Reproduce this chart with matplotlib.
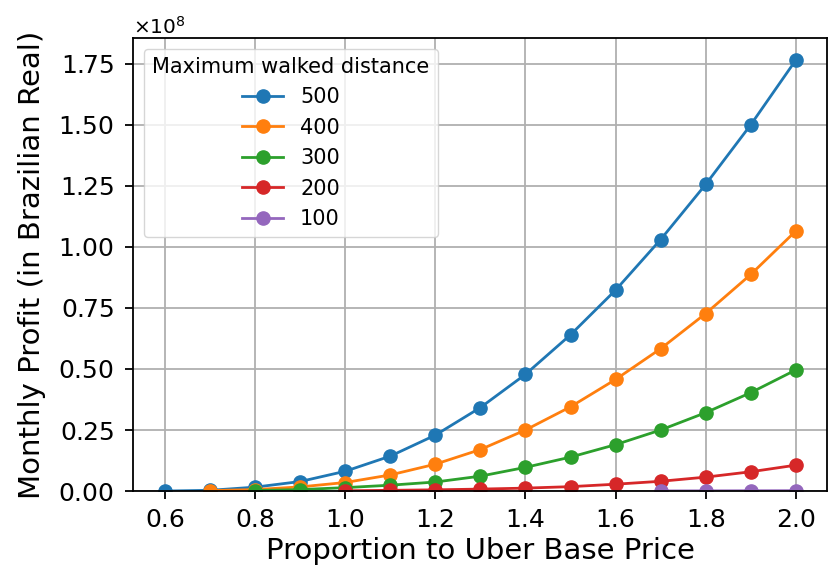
import numpy as np
import matplotlib.pyplot as plt
from matplotlib.ticker import ScalarFormatter

prices = [0.6, 0.7, 0.8, 0.9, 1.0, 1.1, 1.2, 1.3, 1.4, 1.5, 1.6, 1.7, 1.8, 1.9, 2.0]

# monthly profit, units of 1e8 BRL
profit_500 = [0.0, 0.003, 0.016, 0.039, 0.081, 0.143, 0.229, 0.342, 0.478, 0.640, 0.823, 1.030, 1.256, 1.500, 1.765]
profit_400 = [0.002, 0.006, 0.017, 0.035, 0.066, 0.110, 0.170, 0.250, 0.345, 0.457, 0.583, 0.727, 0.887, 1.065]
profit_300 = [0.002, 0.006, 0.014, 0.024, 0.037, 0.061, 0.097, 0.139, 0.190, 0.250, 0.321, 0.403, 0.496]
profit_200 = [0.001, 0.003, 0.005, 0.008, 0.012, 0.018, 0.028, 0.040, 0.057, 0.079, 0.106]
profit_100 = [0.0005, 0.0008, 0.0012, 0.0016]

series = [("500", profit_500), ("400", profit_400), ("300", profit_300),
          ("200", profit_200), ("100", profit_100)]

fig, ax = plt.subplots(figsize=(8.29, 5.69), dpi=100)
fig.subplots_adjust(left=0.161, right=0.998, top=0.933, bottom=0.137)

for name, vals in series:
    xs = prices[len(prices) - len(vals):]
    ax.plot(xs, np.array(vals) * 1e8, marker='o', markersize=9.5, linewidth=2, label=name)

fmt = ScalarFormatter(useMathText=True)
fmt.set_powerlimits((0, 0))
ax.yaxis.set_major_formatter(fmt)
ax.yaxis.get_offset_text().set_fontsize(14.5)

ax.set_xlim(0.53, 2.07)
ax.set_ylim(0, 1.855e8)
ax.set_xticks([0.6, 0.8, 1.0, 1.2, 1.4, 1.6, 1.8, 2.0])
ax.tick_params(labelsize=18, width=1.3, length=6)
ax.tick_params(axis='y', pad=8)
ax.tick_params(axis='x', pad=6)
for sp in ax.spines.values():
    sp.set_linewidth(1.3)
ax.grid(True, color='#b0b0b0', linewidth=1.3)
ax.set_xlabel("Proportion to Uber Base Price", fontsize=21, labelpad=4)
ax.set_ylabel("Monthly Profit (in Brazilian Real)", fontsize=21, labelpad=9)
ax.legend(title="Maximum walked distance", fontsize=15, title_fontsize=15,
          loc='upper left', labelspacing=0.5)

plt.savefig("out.png", dpi=100)
